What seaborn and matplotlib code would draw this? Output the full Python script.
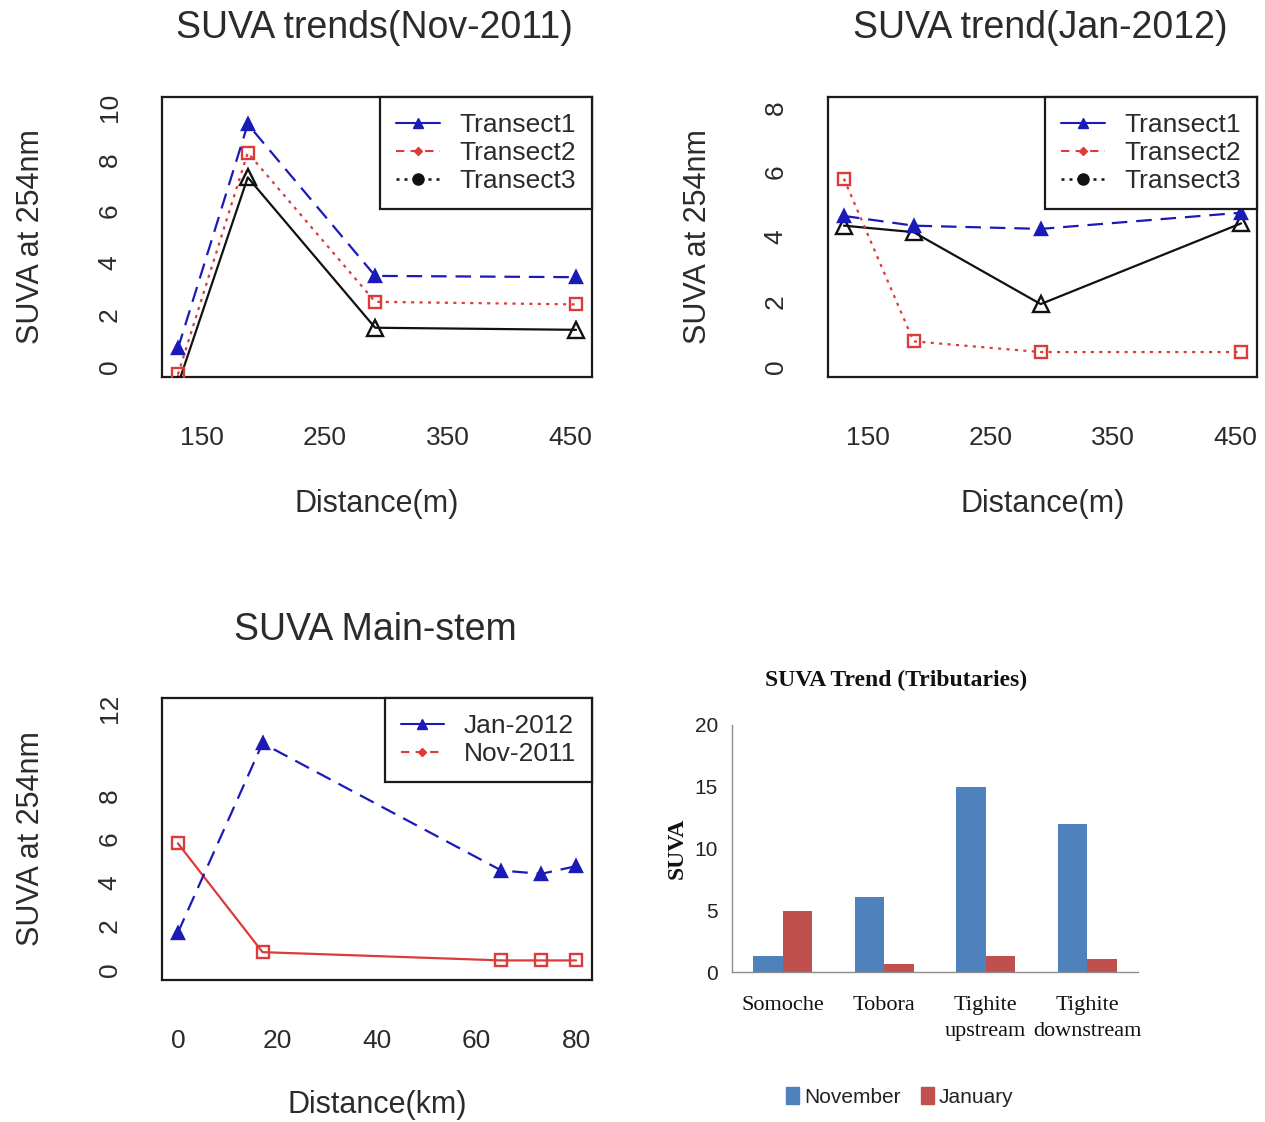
import matplotlib
matplotlib.use("Agg")
import matplotlib.pyplot as plt
import seaborn as sns
import pandas as pd
from matplotlib.lines import Line2D
from matplotlib.patches import Patch

# ---------------- data ----------------
dist_m = [130, 187, 291, 455]

nov_transect1 = [0.7, 9.35, 3.5, 3.45]
nov_transect2 = [-0.3, 8.25, 2.5, 2.4]
nov_transect3 = [-0.7, 7.3, 1.5, 1.42]

jan_transect1 = [4.65, 4.35, 4.25, 4.75]
jan_transect2 = [5.8, 0.78, 0.45, 0.45]
jan_transect3 = [4.35, 4.15, 1.93, 4.42]

dist_km = [0, 17, 65, 73, 80]
main_jan = [1.7, 10.4, 4.55, 4.4, 4.75]
main_nov = [5.8, 0.8, 0.42, 0.42, 0.42]

sites = ["Somoche", "Tobora", "Tighite\nupstream", "Tighite\ndownstream"]
trib_november = [1.3, 6.05, 14.95, 12.0]
trib_january = [4.9, 0.68, 1.3, 1.08]

m_ticks = [150, 200, 250, 300, 350, 400, 450]
m_ticklabels = ["150", "", "250", "", "350", "", "450"]
km_ticks = [0, 20, 40, 60, 80]
km_ticklabels = ["0", "20", "40", "60", "80"]

# ---------------- style ----------------
W, H = 1265, 1122
BLUE = "#1a1ab8"
RED = "#dd3a3a"
BLACK = "#111111"
TXT = "#2b2b2b"
SANS = ["Liberation Sans", "DejaVu Sans"]
SERIF = ["Liberation Serif", "DejaVu Serif"]

sns.set_style("white")
plt.rcParams["font.family"] = SANS

fig = plt.figure(figsize=(W / 100, H / 100), dpi=100)


def rect(left, top, right, bottom):
    return [left / W, 1 - bottom / H, (right - left) / W, (bottom - top) / H]


def r_axes(r, xlim, ylim, xticks, xlabels, yticks, ylabels, xlabel, ylabel, xlab_y):
    ax = fig.add_axes(r)
    ax.set_xlim(xlim)
    ax.set_ylim(ylim)
    for s in ax.spines.values():
        s.set_visible(True)
        s.set_linewidth(1.6)
        s.set_color("#1a1a1a")
    ax.set_xticks(xticks)
    ax.set_xticklabels(xlabels)
    ax.set_yticks(yticks)
    ax.set_yticklabels(ylabels, rotation=90, va="center")
    ax.tick_params(axis="both", direction="out", length=10, width=1.6,
                   color="#1a1a1a", labelsize=19, labelcolor=TXT)
    ax.tick_params(axis="x", pad=25)
    ax.tick_params(axis="y", pad=19)
    ax.set_xlabel(xlabel, fontsize=22, color=TXT)
    ax.set_ylabel(ylabel, fontsize=22, color=TXT)
    ax.xaxis.set_label_coords(0.5, xlab_y)
    ax.xaxis.label.set_va("center")
    ax.yaxis.set_label_coords((31 - r[0] * W) / (r[2] * W), 0.5)
    ax.yaxis.label.set_va("center")
    return ax


def series(ax, x, y, color, ls, marker, ms, mfc, zorder=3):
    sns.lineplot(x=x, y=y, ax=ax, color=color, linestyle=ls, linewidth=1.6,
                 marker=marker, markersize=ms, markerfacecolor=mfc,
                 markeredgecolor=color, markeredgewidth=1.7,
                 errorbar=None, legend=False, zorder=zorder)


DASH = (0, (7, 4))
DOT = (0, (1.4, 2.4))

transect_handles = [
    Line2D([], [], color=BLUE, ls="-", lw=1.5, marker="^", ms=7),
    Line2D([], [], color=RED, ls=(0, (4, 3)), lw=1.5, marker="D", ms=4),
    Line2D([], [], color=BLACK, ls=(0, (1.2, 2)), lw=1.8, marker="o", ms=8),
]
transect_labels = ["Transect1", "Transect2", "Transect3"]


def r_legend(ax, handles, labels):
    leg = ax.legend(handles, labels, loc="upper right", borderaxespad=0,
                    frameon=True, fancybox=False, framealpha=1,
                    edgecolor="#1a1a1a", fontsize=19, handlelength=1.65,
                    handletextpad=0.75, labelspacing=0.15, borderpad=0.6,
                    labelcolor=TXT)
    leg.get_frame().set_linewidth(1.6)
    return leg


# ---------------- Nov-2011 transects ----------------
ax1 = r_axes(rect(162, 97, 592, 377), (117, 468), (-0.4, 10.4),
             m_ticks, m_ticklabels, [0, 2, 4, 6, 8, 10],
             ["0", "2", "4", "6", "8", "10"],
             "Distance(m)", "SUVA at 254nm", (377 - 504) / 280)
series(ax1, dist_m, nov_transect3, BLACK, "-", "^", 12, "none")
series(ax1, dist_m, nov_transect2, RED, DOT, "s", 9, "none")
series(ax1, dist_m, nov_transect1, BLUE, DASH, "^", 9, BLUE)
r_legend(ax1, transect_handles, transect_labels)
fig.text(374 / W, 1 - 28 / H, "SUVA trends(Nov-2011)", ha="center",
         va="center", fontsize=27, color=TXT)

# ---------------- Jan-2012 transects ----------------
ax2 = r_axes(rect(828, 97, 1257, 377), (117, 468), (-0.32, 8.32),
             m_ticks, m_ticklabels, [0, 2, 4, 6, 8],
             ["0", "2", "4", "6", "8"],
             "Distance(m)", "SUVA at 254nm", (377 - 504) / 280)
ax2.yaxis.set_label_coords((698 - 828) / 429, 0.5)
series(ax2, dist_m, jan_transect3, BLACK, "-", "^", 12, "none")
series(ax2, dist_m, jan_transect2, RED, DOT, "s", 9, "none")
series(ax2, dist_m, jan_transect1, BLUE, DASH, "^", 9, BLUE)
r_legend(ax2, transect_handles, transect_labels)
fig.text(1040 / W, 1 - 28 / H, "SUVA trend(Jan-2012)", ha="center",
         va="center", fontsize=27, color=TXT)

# ---------------- main stem ----------------
ax3 = r_axes(rect(162, 698, 592, 980), (-3.2, 83.2), (-0.48, 12.48),
             km_ticks, km_ticklabels, [0, 2, 4, 6, 8, 10, 12],
             ["0", "2", "4", "6", "8", "", "12"],
             "Distance(km)", "SUVA at 254nm", (980 - 1105) / 282)
series(ax3, dist_km, main_nov, RED, "-", "s", 9, "none")
series(ax3, dist_km, main_jan, BLUE, DASH, "^", 9, BLUE)
r_legend(ax3,
         [Line2D([], [], color=BLUE, ls="-", lw=1.5, marker="^", ms=7),
          Line2D([], [], color=RED, ls=(0, (4, 3)), lw=1.5, marker="D", ms=4)],
         ["Jan-2012", "Nov-2011"])
fig.text(375 / W, 1 - 630 / H, "SUVA Main-stem", ha="center",
         va="center", fontsize=27, color=TXT)

# ---------------- tributaries ----------------
trib = pd.DataFrame({
    "site": sites * 2,
    "month": ["November"] * len(sites) + ["January"] * len(sites),
    "SUVA": trib_november + trib_january,
})
NOV_C = "#4f81bd"
JAN_C = "#c0504d"
ax4 = fig.add_axes(rect(732, 725, 1138, 972))
sns.barplot(data=trib, x="site", y="SUVA", hue="month",
            palette=[NOV_C, JAN_C], width=0.58, saturation=1,
            errorbar=None, linewidth=0, ax=ax4, legend=False)
ax4.set_xlim(-0.5, 3.5)
ax4.set_ylim(0, 20)
ax4.set_yticks([0, 5, 10, 15, 20])
ax4.set_yticklabels(["0", "5", "10", "15", "20"], family=SANS,
                    fontsize=15, color="#222222")
ax4.tick_params(axis="y", direction="out", length=4, width=1,
                color="#8c8c8c", pad=6)
ax4.set_xticks([-0.5, 0.5, 1.5, 2.5])
ax4.set_xticklabels([])
ax4.set_xticks(range(len(sites)), minor=True)
ax4.set_xticklabels(sites, minor=True, family=SERIF, fontsize=16,
                    color="#111111", linespacing=1.55)
ax4.tick_params(axis="x", which="major", direction="out", length=10,
                width=1, color="#8c8c8c")
ax4.tick_params(axis="x", which="minor", length=0, pad=17)
for side in ("top", "right"):
    ax4.spines[side].set_visible(False)
for side in ("left", "bottom"):
    ax4.spines[side].set_visible(True)
    ax4.spines[side].set_color("#8c8c8c")
    ax4.spines[side].set_linewidth(1)
ax4.set_xlabel("")
ax4.set_ylabel("SUVA", family=SERIF, fontweight="bold", fontsize=17,
               color="#111111")
ax4.yaxis.set_label_coords((677 - 732) / 406, 0.5)
ax4.yaxis.label.set_va("center")
fig.text(896 / W, 1 - 680 / H, "SUVA Trend (Tributaries)", ha="center",
         va="center", family=SERIF, fontweight="bold", fontsize=17,
         color="#111111")
fig.legend([Patch(color=NOV_C), Patch(color=JAN_C)], ["November", "January"],
           loc="center", bbox_to_anchor=(900 / W, 1 - 1097 / H), ncol=2,
           frameon=False, prop={"family": SANS, "size": 15},
           handlelength=0.6, handleheight=0.9, handletextpad=0.25,
           columnspacing=1.0, labelcolor="#222222")

fig.savefig("out.png", dpi=100, facecolor="white")
